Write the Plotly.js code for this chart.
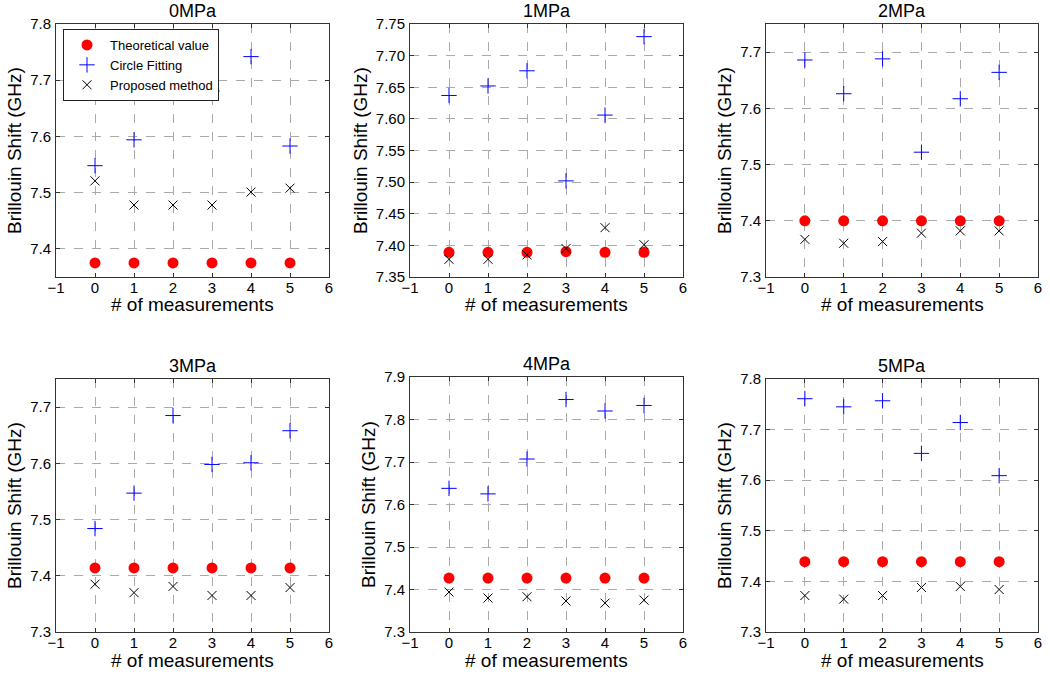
<!DOCTYPE html>
<html>
<head>
<meta charset="utf-8">
<script src="https://cdn.plot.ly/plotly-3.0.1.min.js"></script>
<style>html,body{margin:0;padding:0;background:#fff;}#chart{width:1050px;height:676px;}</style>
</head>
<body>
<div id="chart"></div>
<script>
// ---- data ----
const measurements = [0, 1, 2, 3, 4, 5];
const panelTitles = ["0MPa", "1MPa", "2MPa", "3MPa", "4MPa", "5MPa"];
const seriesNames = ["Theoretical value", "Circle Fitting", "Proposed method"];

const theory0 = [7.375, 7.375, 7.375, 7.375, 7.375, 7.375];
const theory1 = [7.389, 7.389, 7.389, 7.390, 7.389, 7.389];
const theory2 = [7.400, 7.400, 7.400, 7.400, 7.400, 7.400];
const theory3 = [7.414, 7.414, 7.414, 7.414, 7.414, 7.414];
const theory4 = [7.427, 7.427, 7.427, 7.427, 7.427, 7.427];
const theory5 = [7.439, 7.439, 7.439, 7.439, 7.439, 7.439];

const circle0 = [7.548, 7.594, 7.681, 7.681, 7.742, 7.583];
const circle1 = [7.637, 7.652, 7.676, 7.502, 7.606, 7.730];
const circle2 = [7.686, 7.626, 7.688, 7.522, 7.617, 7.664];
const circle3 = [7.484, 7.547, 7.685, 7.598, 7.601, 7.658];
const circle4 = [7.638, 7.625, 7.707, 7.847, 7.820, 7.833];
const circle5 = [7.761, 7.745, 7.757, 7.653, 7.714, 7.609];

const proposed0 = [7.521, 7.478, 7.478, 7.478, 7.501, 7.508];
const proposed1 = [7.378, 7.378, 7.385, 7.395, 7.428, 7.401];
const proposed2 = [7.367, 7.360, 7.363, 7.378, 7.382, 7.382];
const proposed3 = [7.385, 7.370, 7.381, 7.365, 7.365, 7.379];
const proposed4 = [7.394, 7.380, 7.383, 7.373, 7.368, 7.375];
const proposed5 = [7.372, 7.365, 7.372, 7.388, 7.390, 7.384];

const xRange = [-1, 6];
const yRanges = [[7.35, 7.8], [7.35, 7.75], [7.3, 7.75], [7.3, 7.75], [7.3, 7.9], [7.3, 7.8]];
const yDticks = [0.1, 0.05, 0.1, 0.1, 0.1, 0.1];
const yFormats = [".1f", ".2f", ".1f", ".1f", ".1f", ".1f"];
const xLabel = "# of measurements";
const yLabel = "Brillouin Shift (GHz)";

// ---- build ----
const theories = [theory0, theory1, theory2, theory3, theory4, theory5];
const circles = [circle0, circle1, circle2, circle3, circle4, circle5];
const proposeds = [proposed0, proposed1, proposed2, proposed3, proposed4, proposed5];

const W = 1050, H = 676;
const boxes = [
  [56, 329, 24, 277], [410, 683, 24, 277], [766, 1038, 24, 277],
  [56, 329, 379, 632], [410, 683, 377, 632], [766, 1038, 379, 632]
];
const FONT = "Liberation Sans, Arial, sans-serif";

const traces = [];
const layout = {
  width: W, height: H,
  margin: {l: 0, r: 0, t: 0, b: 0},
  paper_bgcolor: "#fff", plot_bgcolor: "#fff",
  font: {family: FONT, color: "#000", size: 15},
  showlegend: true,
  legend: {
    x: 63 / W, y: 1 - 29 / H, xanchor: "left", yanchor: "top",
    bgcolor: "#fff", bordercolor: "#222", borderwidth: 1,
    font: {family: FONT, size: 13, color: "#000"},
    tracegroupgap: 0, itemwidth: 36
  },
  annotations: []
};

for (let i = 0; i < 6; i++) {
  const n = i === 0 ? "" : String(i + 1);
  const xa = "x" + n, ya = "y" + n;
  const [l, r, t, b] = boxes[i];
  traces.push({
    x: measurements, y: theories[i], xaxis: xa, yaxis: ya, type: "scatter", mode: "markers",
    name: seriesNames[0], showlegend: i === 0, legendgroup: "t",
    marker: {symbol: "circle", size: 11, color: "#ff0000", line: {width: 0}}
  });
  traces.push({
    x: measurements, y: circles[i], xaxis: xa, yaxis: ya, type: "scatter", mode: "markers",
    name: seriesNames[1], showlegend: i === 0, legendgroup: "c",
    marker: {symbol: "cross-thin-open", size: 11, color: "#0000ff", line: {width: 1, color: "#0000ff"}}
  });
  traces.push({
    x: measurements, y: proposeds[i], xaxis: xa, yaxis: ya, type: "scatter", mode: "markers",
    name: seriesNames[2], showlegend: i === 0, legendgroup: "p",
    marker: {symbol: "x-thin-open", size: 9, color: "#000", line: {width: 1, color: "#000"}}
  });
  const common = {
    showline: true, linecolor: "#333", linewidth: 1, mirror: "allticks",
    ticks: "inside", ticklen: 4, tickcolor: "#333",
    showgrid: true, gridcolor: "#aaa", griddash: "dash", gridwidth: 1,
    zeroline: false, tickfont: {family: FONT, size: 15, color: "#000"}
  };
  layout["xaxis" + n] = Object.assign({}, common, {
    domain: [l / W, r / W], anchor: ya, range: xRange, dtick: 1, tick0: 0,
    ticklabelstandoff: -3
  });
  layout["yaxis" + n] = Object.assign({}, common, {
    domain: [1 - b / H, 1 - t / H], anchor: xa, range: yRanges[i], dtick: yDticks[i], tick0: 7,
    tickformat: yFormats[i], ticklabelstandoff: 1,
    title: {text: yLabel, font: {family: FONT, size: 19, color: "#000"}, standoff: 3}
  });
  layout.annotations.push({
    text: panelTitles[i], xref: "paper", yref: "paper",
    x: (l + r) / 2 / W, y: 1 - (t - 1) / H, xanchor: "center", yanchor: "bottom",
    showarrow: false, font: {family: FONT, size: 18, color: "#000"}
  });
  layout.annotations.push({
    text: xLabel, xref: "paper", yref: "paper",
    x: (l + r) / 2 / W, y: 1 - (b + 28) / H, xanchor: "center", yanchor: "middle",
    showarrow: false, font: {family: FONT, size: 19, color: "#000"}
  });
}

Plotly.newPlot("chart", traces, layout, {displayModeBar: false, staticPlot: true});
</script>
</body>
</html>
